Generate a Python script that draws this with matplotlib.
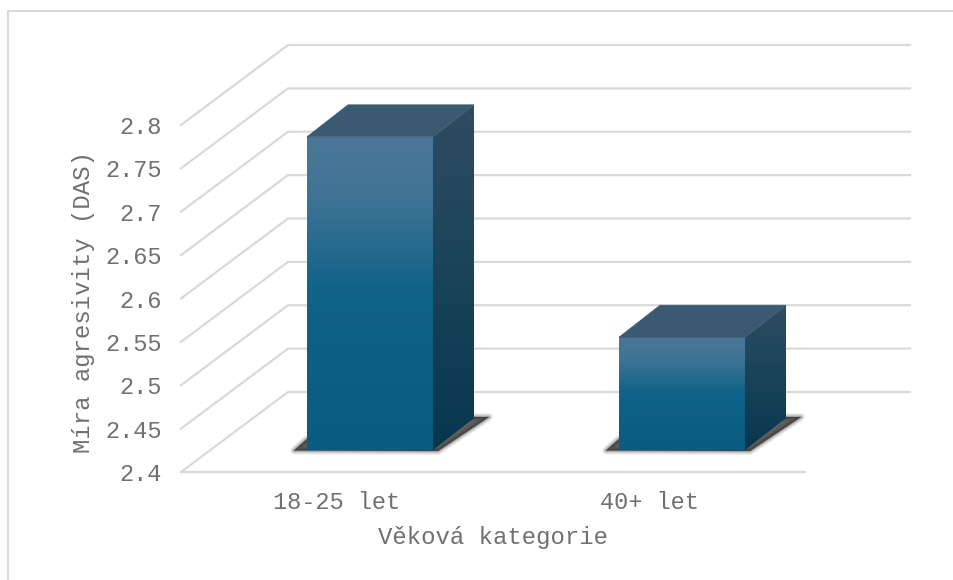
import numpy as np
import matplotlib
matplotlib.use("Agg")
import matplotlib.pyplot as plt
from matplotlib.colors import LinearSegmentedColormap
from matplotlib.patches import Polygon, Rectangle

categories = ["18-25 let", "40+ let"]
values = [2.761, 2.53]
y_ticks = [2.4, 2.45, 2.5, 2.55, 2.6, 2.65, 2.7, 2.75, 2.8]
y_tick_labels = ["2.4", "2.45", "2.5", "2.55", "2.6", "2.65", "2.7", "2.75", "2.8"]
x_label = "Věková kategorie"
y_label = "Míra agresivity (DAS)"

W, H = 954, 580
L, R, T, B = 181, 805, 125, 472
fig = plt.figure(figsize=(W / 100, H / 100), dpi=100, facecolor="white")
ax = fig.add_axes([L / W, 1 - B / H, (R - L) / W, (B - T) / H])
ax.set_facecolor("none")
ax.set_xlim(0, 2)
ax.set_ylim(2.4, 2.8)
px = 2 / (R - L)
py = 0.4 / (B - T)
for s in ax.spines.values():
    s.set_visible(False)

MONO = "Liberation Mono"
TXT = "#707070"
ax.set_yticks(y_ticks, y_tick_labels, family=MONO, fontsize=17, color=TXT)
ax.set_xticks([0.5, 1.5], categories, family=MONO, fontsize=17, color=TXT)
ax.tick_params(length=0)
ax.tick_params(axis="y", pad=13.5)
ax.tick_params(axis="x", pad=13.4)
ax.set_xlabel(x_label, family=MONO, fontsize=17.3, color=TXT, labelpad=9)
ax.set_ylabel(y_label, family=MONO, fontsize=17.3, color=TXT, labelpad=8, y=0.4885)

fig.add_artist(Rectangle((8.5 / W, -0.02), 1, 1 - 10.5 / H + 0.02, transform=fig.transFigure,
                         fill=False, ec="#D9D9D9", lw=1.5))

# wall / floor grid
GX, GY = 107 * px, 80 * py
right_back = 2 + 105 * px
GRID = "#D9D9D9"
for v in y_ticks:
    ax.plot([0, GX, right_back], [v, v + GY, v + GY], color=GRID, lw=1.6, clip_on=False,
            solid_joinstyle="round", zorder=1)
ax.plot([0, 2], [2.4, 2.4], color=GRID, lw=1.6, clip_on=False, zorder=1)

front = LinearSegmentedColormap.from_list(
    "front", [(0, "#4C7797"), (0.2, "#3F7394"), (0.5, "#0F6288"), (1, "#0A5B81")])
side = LinearSegmentedColormap.from_list(
    "side", [(0, "#2F4C62"), (0.45, "#1B4459"), (1, "#06374E")])

BAR_W = 126 * px
SHIFT_X = 33 * px
BASE_DY = 22 * py
DX, DY = 41 * px, 32 * py
grad = np.linspace(0, 1, 256).reshape(-1, 1)


def gradient_poly(pts, cmap, zorder):
    pts = np.array(pts)
    poly = Polygon(pts, closed=True, transform=ax.transData, fc="none", ec="none", clip_on=False)
    ax.add_patch(poly)
    im = ax.imshow(grad, cmap=cmap, aspect="auto", origin="upper", interpolation="bilinear",
                   extent=[pts[:, 0].min(), pts[:, 0].max(), pts[:, 1].min(), pts[:, 1].max()],
                   zorder=zorder)
    im.set_clip_box(fig.bbox)
    im.set_clip_path(poly)


for i, val in enumerate(values):
    x0 = i + 0.5 + SHIFT_X - BAR_W / 2
    x1 = x0 + BAR_W
    b = 2.4 + BASE_DY
    t = val + BASE_DY
    # soft shadow on the floor
    shadow = [(x0 - 13 * px, b - 0.5 * py), (x0, b + 11 * py), (x1 + DX, b + DY + 1 * py),
              (x1 + DX + 15 * px, b + DY + 1 * py), (x1 + 5 * px, b - 1 * py)]
    for lw, a in [(6, 0.05), (4.5, 0.08), (3, 0.12), (1.5, 0.18), (0.01, 0.45)]:
        ax.add_patch(Polygon(shadow, closed=True, fc=(0.05, 0.05, 0.05, a), ec=(0.05, 0.05, 0.05, a),
                             lw=lw, joinstyle="round", clip_on=False, zorder=2))
    gradient_poly([(x0, b), (x1, b), (x1, t), (x0, t)], front, 4)
    gradient_poly([(x1, b), (x1 + DX, b + DY), (x1 + DX, t + DY), (x1, t)], side, 4)
    ax.add_patch(Polygon([(x0, t), (x1, t), (x1 + DX, t + DY), (x0 + DX, t + DY)], closed=True,
                         fc="#3A5A72", ec="#3A5A72", lw=0.5, clip_on=False, zorder=4))

ax.set_xlim(0, 2)
ax.set_ylim(2.4, 2.8)
fig.savefig("out.png", dpi=100)
